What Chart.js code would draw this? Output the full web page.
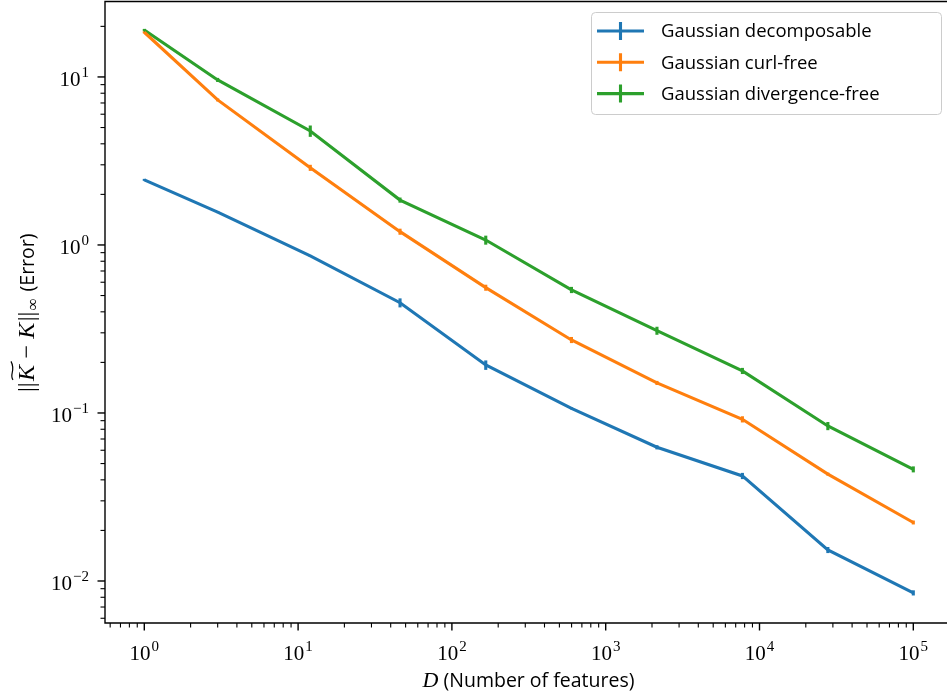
<!DOCTYPE html>
<html>
<head>
<meta charset="utf-8">
<script src="https://cdn.jsdelivr.net/npm/chart.js@4.4.1/dist/chart.umd.min.js"></script>
<style>
  html, body { margin: 0; padding: 0; background: #fff; }
  #wrap { width: 947px; height: 698px; }
</style>
</head>
<body>
<div id="wrap"><canvas id="chart-error"></canvas></div>
<script>
// number of random features D
var features = [1, 3, 12, 46, 166, 599, 2154, 7742, 27825, 100000];

// sup-norm error, mean over runs
var decomposable = [2.44, 1.57, 0.86, 0.453, 0.193, 0.1066, 0.0625, 0.0422, 0.0153, 0.0085];
var curlFree = [18.45, 7.3, 2.88, 1.2, 0.557, 0.272, 0.151, 0.0917, 0.0433, 0.0223];
var divFree = [19.05, 9.6, 4.77, 1.85, 1.07, 0.54, 0.309, 0.178, 0.0837, 0.0462];

// std over runs (error bars)
var decomposableErr = [0.034, 0.022, 0.012, 0.028, 0.0125, 0.0015, 0.0018, 0.0018, 0.00064, 0.0003];
var curlFreeErr = [0.26, 0.15, 0.12, 0.05, 0.023, 0.0114, 0.0042, 0.0039, 0.0009, 0.0006];
var divFreeErr = [0.27, 0.27, 0.37, 0.065, 0.066, 0.023, 0.017, 0.0075, 0.0047, 0.0019];

var seriesNames = ["Gaussian decomposable", "Gaussian curl-free", "Gaussian divergence-free"];
var xTickExps = [0, 1, 2, 3, 4, 5];
var yTickExps = [-2, -1, 0, 1];

var colors = ["#1f77b4", "#ff7f0e", "#2ca02c"];
var errs = [decomposableErr, curlFreeErr, divFreeErr];
var LW = 3.1;
var SANS = "'Open Sans', sans-serif";
var SERIF = "'Liberation Serif', serif";

function pts(vals) {
  return vals.map(function (v, i) { return { x: features[i], y: v }; });
}

// draws 10^e with a raised exponent
function drawPow(ctx, e, x, y, align) {
  var exp = e < 0 ? "\u2212" + Math.abs(e) : String(e);
  ctx.font = "21px " + SERIF;
  var wb = ctx.measureText("10").width;
  ctx.font = "15px " + SERIF;
  var we = ctx.measureText(exp).width;
  var w = wb + we + 1;
  var x0 = align === "right" ? x - w : x - w / 2;
  ctx.textAlign = "left";
  ctx.textBaseline = "alphabetic";
  ctx.font = "21px " + SERIF;
  ctx.fillText("10", x0, y);
  ctx.font = "15px " + SERIF;
  ctx.fillText(exp, x0 + wb + 1, y - 9);
}

var errorBars = {
  id: "errorBars",
  beforeDatasetsDraw: function (chart) {
    var ctx = chart.ctx, xs = chart.scales.x, ys = chart.scales.y, a = chart.chartArea;
    ctx.save();
    ctx.beginPath();
    ctx.rect(a.left, a.top, a.right - a.left, a.bottom - a.top);
    ctx.clip();
    chart.data.datasets.forEach(function (ds, i) {
      ctx.strokeStyle = colors[i];
      ctx.lineWidth = LW;
      ds.data.forEach(function (p, k) {
        var px = xs.getPixelForValue(p.x);
        var e = errs[i][k];
        ctx.beginPath();
        ctx.moveTo(px, ys.getPixelForValue(p.y + e));
        ctx.lineTo(px, ys.getPixelForValue(p.y - e));
        ctx.stroke();
      });
    });
    ctx.restore();
  }
};

var axesDeco = {
  id: "axesDeco",
  afterDraw: function (chart) {
    var ctx = chart.ctx, xs = chart.scales.x, ys = chart.scales.y, a = chart.chartArea;
    ctx.save();
    ctx.strokeStyle = "#000";
    ctx.fillStyle = "#000";

    // spines (right one is outside the picture)
    ctx.lineWidth = 1.4;
    ctx.beginPath();
    ctx.moveTo(a.right + 2, a.top + 0.5);
    ctx.lineTo(a.left, a.top + 0.5);
    ctx.lineTo(a.left, a.bottom);
    ctx.lineTo(a.right + 2, a.bottom);
    ctx.stroke();

    // x ticks
    for (var e = -1; e <= 5; e++) {
      for (var m = 1; m <= 9; m++) {
        var v = m * Math.pow(10, e);
        if (v < xs.min || v > xs.max) continue;
        var px = xs.getPixelForValue(v);
        ctx.lineWidth = m === 1 ? 1.4 : 1.1;
        ctx.beginPath();
        ctx.moveTo(px, a.bottom);
        ctx.lineTo(px, a.bottom + (m === 1 ? 7.5 : 4.5));
        ctx.stroke();
      }
    }
    // y ticks
    for (var e2 = -3; e2 <= 2; e2++) {
      for (var m2 = 1; m2 <= 9; m2++) {
        var v2 = m2 * Math.pow(10, e2);
        if (v2 < ys.min || v2 > ys.max) continue;
        var py = ys.getPixelForValue(v2);
        ctx.lineWidth = m2 === 1 ? 1.4 : 1.1;
        ctx.beginPath();
        ctx.moveTo(a.left, py);
        ctx.lineTo(a.left - (m2 === 1 ? 7.5 : 4.5), py);
        ctx.stroke();
      }
    }

    xTickExps.forEach(function (e) {
      drawPow(ctx, e, xs.getPixelForValue(Math.pow(10, e)), 660, "center");
    });
    yTickExps.forEach(function (e) {
      drawPow(ctx, e, a.left - 16, ys.getPixelForValue(Math.pow(10, e)) + 9, "right");
    });

    // x title: D (Number of features)
    ctx.textBaseline = "alphabetic";
    ctx.textAlign = "left";
    ctx.font = "italic 22px " + SERIF;
    var wD = ctx.measureText("D").width;
    ctx.font = "19.5px " + SANS;
    var wRest = ctx.measureText(" (Number of features)").width;
    var cx = (a.left + 952) / 2;
    var sx = cx - (wD + wRest) / 2;
    ctx.font = "italic 22px " + SERIF;
    ctx.fillText("D", sx, 687);
    ctx.font = "19.5px " + SANS;
    ctx.fillText(" (Number of features)", sx + wD, 687);

    // y title: ||K~ - K||_inf (Error)
    ctx.save();
    ctx.translate(27, (a.top + a.bottom) / 2);
    ctx.rotate(-Math.PI / 2);
    var parts = [
      { t: "||", f: "24px " + SERIF, dy: 0 },
      { t: "K", f: "italic 24px " + SERIF, dy: 0, tilde: true },
      { t: "\u2009\u2212\u2009", f: "24px " + SERIF, dy: 0 },
      { t: "K", f: "italic 24px " + SERIF, dy: 0 },
      { t: "||", f: "24px " + SERIF, dy: 0 },
      { t: "\u221E", f: "17px " + SERIF, dy: 4 },
      { t: " (Error)", f: "19.5px " + SANS, dy: 0 }
    ];
    var total = 0;
    parts.forEach(function (p) { ctx.font = p.f; p.w = ctx.measureText(p.t).width + 1.5; total += p.w; });
    var tx = -total / 2;
    parts.forEach(function (p) {
      ctx.font = p.f;
      ctx.fillText(p.t, tx, 7 + p.dy);
      if (p.tilde) {
        ctx.lineWidth = 1.2;
        ctx.beginPath();
        var t0 = tx + 1, t1 = tx + p.w + 2, ty = -14;
        ctx.moveTo(t0, ty);
        ctx.bezierCurveTo(t0 + (t1 - t0) * 0.3, ty - 4, t0 + (t1 - t0) * 0.5, ty + 3, t1, ty - 2);
        ctx.stroke();
      }
      tx += p.w;
    });
    ctx.restore();

    // legend
    var bx = 591, by = 12, bw = 350, bh = 102;
    ctx.lineWidth = 1;
    ctx.strokeStyle = "#cccccc";
    ctx.fillStyle = "rgba(255,255,255,0.8)";
    ctx.beginPath();
    ctx.roundRect(bx + 0.5, by + 0.5, bw, bh, 4);
    ctx.fill();
    ctx.stroke();
    seriesNames.forEach(function (name, i) {
      var ry = 31 + i * 31.3;
      ctx.strokeStyle = colors[i];
      ctx.lineWidth = LW;
      ctx.beginPath();
      ctx.moveTo(597, ry);
      ctx.lineTo(644, ry);
      ctx.moveTo(620.5, ry - 9);
      ctx.lineTo(620.5, ry + 9);
      ctx.stroke();
      ctx.fillStyle = "#000";
      ctx.font = "18.5px " + SANS;
      ctx.textBaseline = "middle";
      ctx.fillText(name, 661, ry + 1);
    });
    ctx.restore();
  }
};

var ctx = document.getElementById("chart-error").getContext("2d");

new Chart(ctx, {
  type: "line",
  data: {
    datasets: [
      { label: seriesNames[0], data: pts(decomposable), borderColor: colors[0] },
      { label: seriesNames[1], data: pts(curlFree), borderColor: colors[1] },
      { label: seriesNames[2], data: pts(divFree), borderColor: colors[2] }
    ]
  },
  options: {
    responsive: true,
    maintainAspectRatio: false,
    animation: false,
    devicePixelRatio: 1,
    layout: { padding: { top: 1, left: 0, right: 0, bottom: 0 } },
    elements: {
      line: { borderWidth: LW, tension: 0, fill: false },
      point: { radius: 0, hoverRadius: 0 }
    },
    plugins: {
      legend: { display: false },
      tooltip: { enabled: false }
    },
    scales: {
      x: {
        type: "logarithmic",
        bounds: "data",
        min: Math.pow(10, -0.2555),
        max: Math.pow(10, 5.2191),
        ticks: { display: false },
        grid: { display: false },
        border: { display: false },
        afterFit: function (s) { s.height = 75; }
      },
      y: {
        type: "logarithmic",
        bounds: "data",
        min: Math.pow(10, -2.25),
        max: Math.pow(10, 1.452),
        ticks: { display: false },
        grid: { display: false },
        border: { display: false },
        afterFit: function (s) { s.width = 105; }
      }
    }
  },
  plugins: [errorBars, axesDeco]
});
</script>
</body>
</html>
